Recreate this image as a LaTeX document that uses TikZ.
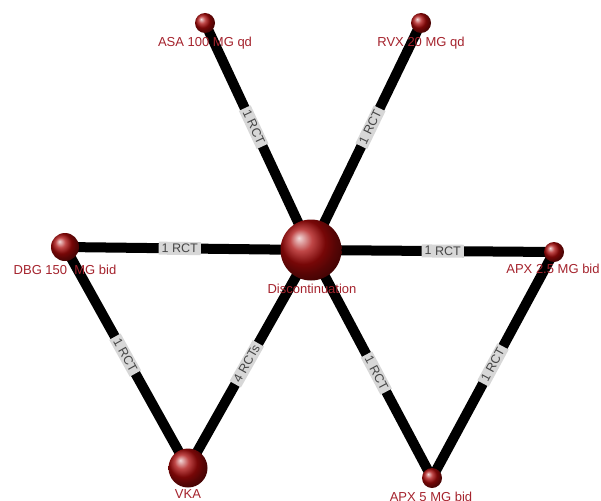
\documentclass[tikz,border=0pt]{standalone}
\usepackage{fontspec}
\setmainfont{Liberation Sans}
\pgfdeclarelayer{back}
\pgfdeclarelayer{bg}
\pgfsetlayers{back,bg,main}
\definecolor{ballred}{RGB}{170,10,10}
\definecolor{labred}{RGB}{165,35,45}
\definecolor{elfill}{RGB}{215,215,215}
\definecolor{eltext}{RGB}{70,70,70}
\begin{document}
\begin{tikzpicture}[x=1pt,y=-1pt,
  sphere/.style={circle,inner sep=0pt,shading=ball,ball color=ballred},
  nlabel/.style={text=labred,font=\fontsize{13}{15}\selectfont,inner sep=0pt,text height=9.5pt,text depth=2.5pt},
  link/.style={line width=10pt,black},
  elabel/.style={fill=elfill,text=eltext,font=\fontsize{12.5}{14}\selectfont,inner xsep=3pt,inner ysep=1pt,text height=9.5pt,text depth=1.5pt,sloped,midway}]
\useasboundingbox (0,0) rectangle (601,500);
\begin{pgfonlayer}{back}
\fill[white] (0,0) rectangle (601,500);
\end{pgfonlayer}
% spheres
\node[sphere,minimum size=20pt] (asa) at (205,23) {};
\node[sphere,minimum size=20pt] (rvx) at (421,23) {};
\node[sphere,minimum size=61pt] (disc) at (311,250) {};
\node[sphere,minimum size=28pt] (dbg) at (65,247) {};
\node[sphere,minimum size=20pt] (apxa) at (554,252) {};
\node[sphere,minimum size=39pt] (vka) at (188,468) {};
\node[sphere,minimum size=20pt] (apxb) at (432,478) {};
% node labels
\node[nlabel] (asal) at (205,43) {ASA 100 MG qd};
\node[nlabel] (rvxl) at (421,43) {RVX 20 MG qd};
\node[nlabel] (discl) at (312,290) {Discontinuation};
\node[nlabel] (dbgl) at (65,271) {DBG 150\ \ MG bid};
\node[nlabel] (apxal) at (553,270) {APX 2.5 MG bid};
\node[nlabel] (vkal) at (188,495) {VKA};
\node[nlabel] (apxbl) at (431,498) {APX 5 MG bid};
% links
\begin{pgfonlayer}{bg}
\draw[link] (asa.center) -- (disc.center);
\draw[link] (rvx.center) -- (disc.center);
\draw[link] (dbg.center) -- (disc.center);
\draw[link] (disc.center) -- (apxa.center);
\draw[link] (dbg.center) -- (vka.center);
\draw[link] (vka.center) -- (disc.center);
\draw[link] (disc.center) -- (apxb.center);
\draw[link] (apxb.center) -- (apxa.center);
\end{pgfonlayer}
% link labels
\path (asa) -- (disc) node[elabel] {1 RCT};
\path (rvx) -- (disc) node[elabel] {1 RCT};
\path (dbg) -- (disc) node[elabel] {1 RCT};
\path (disc) -- (apxa) node[elabel] {1 RCT};
\path (dbg) -- (vka) node[elabel] {1 RCT};
\path (vka) -- (disc) node[elabel] {4 RCTs};
\path (disc) -- (apxb) node[elabel] {1 RCT};
\path (apxb) -- (apxa) node[elabel] {1 RCT};
\end{tikzpicture}
\end{document}
